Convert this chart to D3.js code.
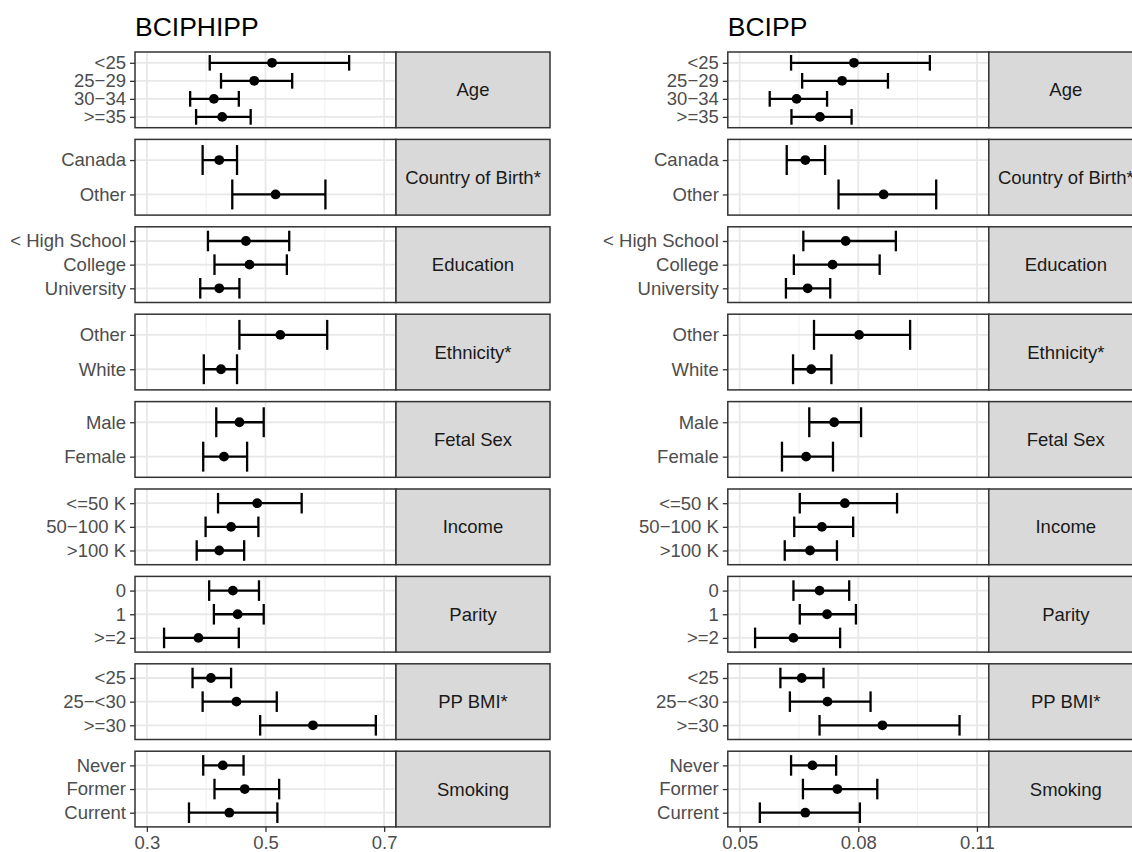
<!DOCTYPE html>
<html>
<head>
<meta charset="utf-8">
<script src="https://cdn.jsdelivr.net/npm/d3@7"></script>
<style>
  body { margin: 0; background: #fff; }
  svg { display: block; font-family: "Liberation Sans", Arial, sans-serif; }
</style>
</head>
<body>
<div id="container"></div>
<script>
// facets (strip labels) and the levels inside each one, top to bottom
var facets = ["Age", "Country of Birth*", "Education", "Ethnicity*", "Fetal Sex", "Income", "Parity", "PP BMI*", "Smoking"];
var levels = [
    ["<25", "25\u221229", "30\u221234", ">=35"],
    ["Canada", "Other"],
    ["< High School", "College", "University"],
    ["Other", "White"],
    ["Male", "Female"],
    ["<=50 K", "50\u2212100 K", ">100 K"],
    ["0", "1", ">=2"],
    ["<25", "25\u2212<30", ">=30"],
    ["Never", "Former", "Current"]
];

// BCIPHIPP, one value per level in the order above
var bciphippEst  = [0.511, 0.481, 0.413, 0.427, 0.422, 0.517, 0.467, 0.473, 0.422, 0.525, 0.425, 0.456, 0.430, 0.486, 0.442, 0.422, 0.445, 0.453, 0.387, 0.408, 0.451, 0.580, 0.428, 0.465, 0.439];
var bciphippLow  = [0.406, 0.425, 0.373, 0.383, 0.394, 0.444, 0.403, 0.414, 0.390, 0.456, 0.396, 0.417, 0.395, 0.420, 0.399, 0.384, 0.405, 0.413, 0.329, 0.377, 0.394, 0.491, 0.395, 0.414, 0.371];
var bciphippHigh = [0.641, 0.545, 0.455, 0.475, 0.452, 0.601, 0.540, 0.536, 0.456, 0.604, 0.452, 0.497, 0.469, 0.561, 0.488, 0.464, 0.489, 0.497, 0.455, 0.442, 0.519, 0.686, 0.463, 0.523, 0.520];
var bciphippTicks = [0.3, 0.5, 0.7];

// BCIPP
var bcippEst  = [0.0789, 0.0759, 0.0644, 0.0703, 0.0666, 0.0864, 0.0768, 0.0735, 0.0672, 0.0802, 0.0681, 0.0739, 0.0668, 0.0766, 0.0708, 0.0678, 0.0702, 0.0721, 0.0636, 0.0657, 0.0722, 0.0861, 0.0684, 0.0747, 0.0666];
var bcippLow  = [0.0630, 0.0658, 0.0576, 0.0631, 0.0619, 0.0750, 0.0661, 0.0637, 0.0617, 0.0688, 0.0635, 0.0676, 0.0607, 0.0652, 0.0638, 0.0614, 0.0636, 0.0652, 0.0539, 0.0603, 0.0627, 0.0702, 0.0630, 0.0660, 0.0551];
var bcippHigh = [0.0981, 0.0875, 0.0721, 0.0783, 0.0716, 0.0997, 0.0895, 0.0854, 0.0729, 0.0931, 0.0732, 0.0807, 0.0736, 0.0898, 0.0787, 0.0746, 0.0777, 0.0794, 0.0754, 0.0712, 0.0831, 0.1056, 0.0744, 0.0848, 0.0804];
var bcippTicks = [0.05, 0.08, 0.11];

var width = 1132;
var height = 852;
var panelTop = 52;
var panelH = 75.7;
var panelGap = 11.7;
var panelW = 261;
var stripW = 154;
var fontSize = 18.5;

var charts = [
    {title: "BCIPHIPP", x0: 135, lim: [0.3, 0.7], ticks: bciphippTicks, fmt: d3.format(".1f"),
     est: bciphippEst, low: bciphippLow, high: bciphippHigh},
    {title: "BCIPP", x0: 727.8, lim: [0.05, 0.11], ticks: bcippTicks, fmt: d3.format(".2f"),
     est: bcippEst, low: bcippLow, high: bcippHigh}
];

var svg = d3.select('#container').append('svg')
    .attr('width', width).attr('height', height);

function styleAxis(g) {
    g.select('.domain').remove();
    g.selectAll('.tick line').attr('stroke', '#333333').attr('stroke-width', 1.3);
    g.selectAll('.tick text').attr('fill', '#4D4D4D').style('font-size', fontSize + 'px');
}

charts.forEach(function(c) {
    // ggplot style 5% expansion of the limits
    var span = c.lim[1] - c.lim[0];
    var x = d3.scaleLinear()
        .domain([c.lim[0] - span * 0.05, c.lim[1] + span * 0.05])
        .range([c.x0, c.x0 + panelW]);
    var minor = d3.pairs(c.ticks).map(function(p) { return (p[0] + p[1]) / 2; });

    svg.append('text')
        .attr('x', c.x0).attr('y', 36)
        .style('font-size', '26.5px')
        .attr('fill', '#000')
        .text(c.title);

    var idx = 0;
    facets.forEach(function(f, fi) {
        var top = panelTop + fi * (panelH + panelGap);
        var lv = levels[fi];
        var y = d3.scalePoint().domain(lv).range([top, top + panelH]).padding(0.6);
        var rows = lv.map(function(l, i) {
            return {label: l, est: c.est[idx + i], low: c.low[idx + i], high: c.high[idx + i]};
        });
        idx += lv.length;

        var g = svg.append('g');
        g.append('rect')
            .attr('x', c.x0).attr('y', top).attr('width', panelW).attr('height', panelH)
            .attr('fill', '#fff');

        // grid
        g.selectAll('.minor').data(minor).enter().append('line')
            .attr('x1', function(d) { return x(d); }).attr('x2', function(d) { return x(d); })
            .attr('y1', top).attr('y2', top + panelH)
            .attr('stroke', '#F0F0F0').attr('stroke-width', 1);
        g.selectAll('.major').data(c.ticks).enter().append('line')
            .attr('x1', function(d) { return x(d); }).attr('x2', function(d) { return x(d); })
            .attr('y1', top).attr('y2', top + panelH)
            .attr('stroke', '#E8E8E8').attr('stroke-width', 1.8);
        g.selectAll('.hgrid').data(lv).enter().append('line')
            .attr('x1', c.x0).attr('x2', c.x0 + panelW)
            .attr('y1', function(d) { return y(d); }).attr('y2', function(d) { return y(d); })
            .attr('stroke', '#E8E8E8').attr('stroke-width', 1.8);

        // error bars
        var cap = y.step() * 0.87 / 2;
        var bars = g.selectAll('.bar').data(rows).enter().append('g');
        bars.append('line')
            .attr('x1', function(d) { return x(d.low); }).attr('x2', function(d) { return x(d.high); })
            .attr('y1', function(d) { return y(d.label); }).attr('y2', function(d) { return y(d.label); })
            .attr('stroke', '#000').attr('stroke-width', 2.3);
        ['low', 'high'].forEach(function(k) {
            bars.append('line')
                .attr('x1', function(d) { return x(d[k]); }).attr('x2', function(d) { return x(d[k]); })
                .attr('y1', function(d) { return y(d.label) - cap; })
                .attr('y2', function(d) { return y(d.label) + cap; })
                .attr('stroke', '#000').attr('stroke-width', 2.3);
        });
        bars.append('circle')
            .attr('cx', function(d) { return x(d.est); })
            .attr('cy', function(d) { return y(d.label); })
            .attr('r', 4.9).attr('fill', '#000');

        // border and strip
        g.append('rect')
            .attr('x', c.x0).attr('y', top).attr('width', panelW).attr('height', panelH)
            .attr('fill', 'none').attr('stroke', '#333333').attr('stroke-width', 1.5);
        g.append('rect')
            .attr('x', c.x0 + panelW).attr('y', top).attr('width', stripW).attr('height', panelH)
            .attr('fill', '#D9D9D9').attr('stroke', '#333333').attr('stroke-width', 1.5);
        g.append('text')
            .attr('x', c.x0 + panelW + stripW / 2).attr('y', top + panelH / 2)
            .attr('dy', '0.35em').attr('text-anchor', 'middle')
            .style('font-size', fontSize + 'px').attr('fill', '#1A1A1A')
            .text(f);

        var ya = g.append('g')
            .attr('transform', 'translate(' + c.x0 + ',0)')
            .call(d3.axisLeft(y).tickSize(5).tickPadding(4));
        styleAxis(ya);

        if (fi === facets.length - 1) {
            var xa = g.append('g')
                .attr('transform', 'translate(0,' + (top + panelH) + ')')
                .call(d3.axisBottom(x).tickValues(c.ticks).tickFormat(c.fmt).tickSize(5).tickPadding(4));
            styleAxis(xa);
        }
    });
});
</script>
</body>
</html>
